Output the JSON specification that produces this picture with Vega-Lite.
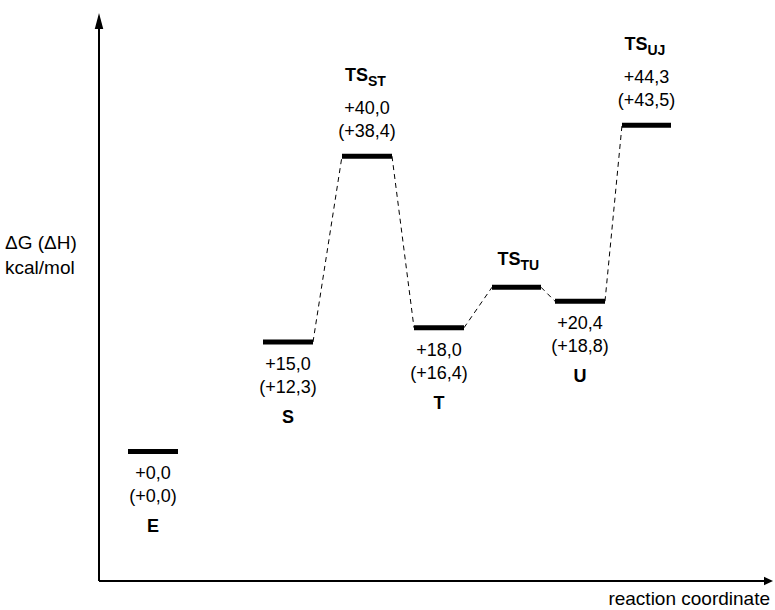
{
  "$schema": "https://vega.github.io/schema/vega-lite/v6.json",
  "width": 672,
  "height": 561,
  "autosize": "none",
  "padding": {"left": 98, "top": 20, "right": 5, "bottom": 29},
  "background": "white",
  "config": {
    "view": {"stroke": null},
    "font": "Liberation Sans",
    "text": {"font": "Liberation Sans", "fontSize": 18, "color": "black"}
  },
  "datasets": {
    "levels": [
      {"id": "E", "sub": "", "x1": 0.30, "x2": 0.80, "xc": 0.55, "G": 0, "l1": "+0,0", "l2": "(+0,0)", "grp": "below"},
      {"id": "S", "sub": "", "x1": 1.65, "x2": 2.15, "xc": 1.90, "G": 14.86, "l1": "+15,0", "l2": "(+12,3)", "grp": "below"},
      {"id": "TS", "sub": "ST", "x1": 2.44, "x2": 2.94, "xc": 2.69, "G": 40.1, "l1": "+40,0", "l2": "(+38,4)", "grp": "above"},
      {"id": "T", "sub": "", "x1": 3.16, "x2": 3.66, "xc": 3.41, "G": 16.8, "l1": "+18,0", "l2": "(+16,4)", "grp": "below"},
      {"id": "TS", "sub": "TU", "x1": 3.94, "x2": 4.43, "xc": 4.185, "G": 22.3, "l1": "", "l2": "", "grp": "tsonly"},
      {"id": "U", "sub": "", "x1": 4.57, "x2": 5.07, "xc": 4.82, "G": 20.4, "l1": "+20,4", "l2": "(+18,8)", "grp": "below"},
      {"id": "TS", "sub": "UJ", "x1": 5.24, "x2": 5.73, "xc": 5.485, "G": 44.3, "l1": "+44,3", "l2": "(+43,5)", "grp": "above"}
    ],
    "links": [
      {"xa": 2.15, "ya": 14.86, "xb": 2.44, "yb": 40.1},
      {"xa": 2.94, "ya": 40.1, "xb": 3.16, "yb": 16.8},
      {"xa": 3.66, "ya": 16.8, "xb": 3.94, "yb": 22.3},
      {"xa": 4.43, "ya": 22.3, "xb": 4.57, "yb": 20.4},
      {"xa": 5.07, "ya": 20.4, "xb": 5.24, "yb": 44.3}
    ],
    "axes": [
      {"name": "y", "xs": 0.01, "xe": 0.01, "ys": -17.6, "ye": 58.0},
      {"name": "x", "xs": 0.01, "xe": 6.68, "ys": -17.6, "ye": -17.6}
    ],
    "titles": [
      {"name": "x", "label": ["reaction coordinate"], "xt": 6.72, "yt": -17.6},
      {"name": "y", "label": ["ΔG (ΔH)", "kcal/mol"], "xt": 0, "yt": 27.5}
    ]
  },
  "layer": [
    {
      "data": {"name": "axes"},
      "mark": {"type": "rule", "strokeWidth": 2, "color": "black"},
      "encoding": {
        "x": {"field": "xs", "type": "quantitative",
          "scale": {"domain": [0, 6.72], "nice": false, "zero": false}, "axis": null},
        "x2": {"field": "xe"},
        "y": {"field": "ys", "type": "quantitative",
          "scale": {"domain": [-17.6, 58.6], "nice": false, "zero": false}, "axis": null},
        "y2": {"field": "ye"}
      }
    },
    {
      "data": {"name": "levels"},
      "mark": {"type": "rule", "strokeWidth": 5, "color": "black", "strokeCap": "butt"},
      "encoding": {
        "x": {"field": "x1", "type": "quantitative", "axis": null},
        "x2": {"field": "x2"},
        "y": {"field": "G", "type": "quantitative", "axis": null}
      }
    },
    {
      "data": {"name": "links"},
      "mark": {"type": "rule", "strokeWidth": 1, "color": "black", "strokeDash": [5, 4]},
      "encoding": {
        "x": {"field": "xa", "type": "quantitative", "axis": null},
        "x2": {"field": "xb"},
        "y": {"field": "ya", "type": "quantitative", "axis": null},
        "y2": {"field": "yb"}
      }
    },
    {
      "data": {"values": [{"axis": "y"}]},
      "mark": {"type": "point", "filled": true, "color": "black", "opacity": 1, "size": 100,
        "shape": "M0,-1.4L0.85,1.8L-0.85,1.8Z"},
      "encoding": {
        "x": {"datum": 0.01, "type": "quantitative", "axis": null},
        "y": {"datum": 58.6, "type": "quantitative", "axis": null}
      }
    },
    {
      "data": {"values": [{"axis": "x"}]},
      "mark": {"type": "point", "filled": true, "color": "black", "opacity": 1, "size": 100,
        "shape": "M0.6,0L-1.2,0.85L-1.2,-0.85Z"},
      "encoding": {
        "x": {"datum": 6.72, "type": "quantitative", "axis": null},
        "y": {"datum": -17.6, "type": "quantitative", "axis": null}
      }
    },
    {
      "data": {"name": "titles"},
      "transform": [{"filter": "datum.name === 'x'"}],
      "mark": {"type": "text", "baseline": "middle", "align": "right", "dy": 18, "fontSize": 19},
      "encoding": {
        "x": {"field": "xt", "type": "quantitative", "axis": null},
        "y": {"field": "yt", "type": "quantitative", "axis": null},
        "text": {"field": "label"}
      }
    },
    {
      "data": {"name": "titles"},
      "transform": [{"filter": "datum.name === 'y'"}],
      "mark": {"type": "text", "baseline": "alphabetic", "align": "left", "dx": -93, "fontSize": 19, "lineHeight": 25},
      "encoding": {
        "x": {"field": "xt", "type": "quantitative", "axis": null},
        "y": {"field": "yt", "type": "quantitative", "axis": null},
        "text": {"field": "label"}
      }
    },
    {
      "data": {"name": "levels"},
      "transform": [{"filter": "datum.grp === 'below'"}],
      "mark": {"type": "text", "baseline": "middle", "align": "center", "dy": 23},
      "encoding": {
        "x": {"field": "xc", "type": "quantitative", "axis": null},
        "y": {"field": "G", "type": "quantitative", "axis": null},
        "text": {"field": "l1"}
      }
    },
    {
      "data": {"name": "levels"},
      "transform": [{"filter": "datum.grp === 'below'"}],
      "mark": {"type": "text", "baseline": "middle", "align": "center", "dy": 46},
      "encoding": {
        "x": {"field": "xc", "type": "quantitative", "axis": null},
        "y": {"field": "G", "type": "quantitative", "axis": null},
        "text": {"field": "l2"}
      }
    },
    {
      "data": {"name": "levels"},
      "transform": [{"filter": "datum.grp === 'below'"}],
      "mark": {"type": "text", "baseline": "middle", "align": "center", "dy": 76, "fontWeight": "bold", "fontSize": 18},
      "encoding": {
        "x": {"field": "xc", "type": "quantitative", "axis": null},
        "y": {"field": "G", "type": "quantitative", "axis": null},
        "text": {"field": "id"}
      }
    },
    {
      "data": {"name": "levels"},
      "transform": [{"filter": "datum.grp === 'above'"}],
      "mark": {"type": "text", "baseline": "middle", "align": "center", "dy": -47},
      "encoding": {
        "x": {"field": "xc", "type": "quantitative", "axis": null},
        "y": {"field": "G", "type": "quantitative", "axis": null},
        "text": {"field": "l1"}
      }
    },
    {
      "data": {"name": "levels"},
      "transform": [{"filter": "datum.grp === 'above'"}],
      "mark": {"type": "text", "baseline": "middle", "align": "center", "dy": -24},
      "encoding": {
        "x": {"field": "xc", "type": "quantitative", "axis": null},
        "y": {"field": "G", "type": "quantitative", "axis": null},
        "text": {"field": "l2"}
      }
    },
    {
      "data": {"name": "levels"},
      "transform": [{"filter": "datum.grp === 'above'"}],
      "mark": {"type": "text", "baseline": "middle", "align": "right", "dx": 1, "dy": -80, "fontWeight": "bold", "fontSize": 18},
      "encoding": {
        "x": {"field": "xc", "type": "quantitative", "axis": null},
        "y": {"field": "G", "type": "quantitative", "axis": null},
        "text": {"field": "id"}
      }
    },
    {
      "data": {"name": "levels"},
      "transform": [{"filter": "datum.grp === 'above'"}],
      "mark": {"type": "text", "baseline": "middle", "align": "left", "dx": 1, "dy": -74, "fontWeight": "bold", "fontSize": 14},
      "encoding": {
        "x": {"field": "xc", "type": "quantitative", "axis": null},
        "y": {"field": "G", "type": "quantitative", "axis": null},
        "text": {"field": "sub"}
      }
    },
    {
      "data": {"name": "levels"},
      "transform": [{"filter": "datum.grp === 'tsonly'"}],
      "mark": {"type": "text", "baseline": "middle", "align": "right", "dx": 4, "dy": -27, "fontWeight": "bold", "fontSize": 18},
      "encoding": {
        "x": {"field": "xc", "type": "quantitative", "axis": null},
        "y": {"field": "G", "type": "quantitative", "axis": null},
        "text": {"field": "id"}
      }
    },
    {
      "data": {"name": "levels"},
      "transform": [{"filter": "datum.grp === 'tsonly'"}],
      "mark": {"type": "text", "baseline": "middle", "align": "left", "dx": 4, "dy": -21, "fontWeight": "bold", "fontSize": 14},
      "encoding": {
        "x": {"field": "xc", "type": "quantitative", "axis": null},
        "y": {"field": "G", "type": "quantitative", "axis": null},
        "text": {"field": "sub"}
      }
    }
  ]
}
